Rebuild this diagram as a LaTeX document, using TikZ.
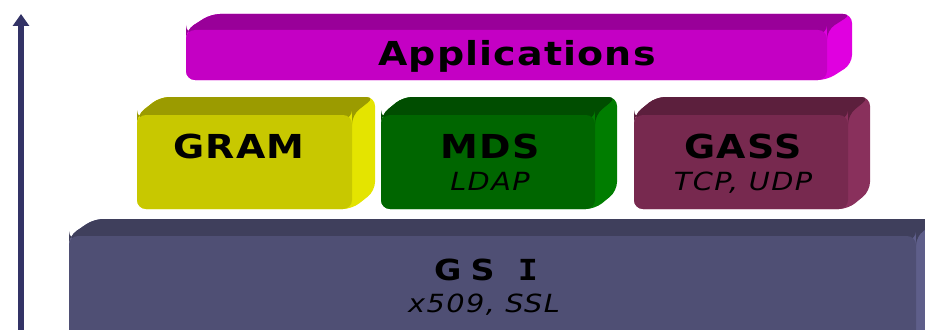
\documentclass[tikz,border=0pt]{standalone}
\usepackage{fontspec}
\usetikzlibrary{arrows.meta}
\newfontfamily\headfont{DejaVu Sans Bold}[LetterSpace=3]
\newfontfamily\slabfont{DejaVu Sans Mono Bold}
\newfontfamily\subfont{DejaVu Sans Oblique}[LetterSpace=5]

\definecolor{arrowc}{HTML}{333366}
\definecolor{appF}{HTML}{C400C4}
\definecolor{appT}{HTML}{990099}
\definecolor{appS}{HTML}{E000E0}
\definecolor{gramF}{HTML}{C8C800}
\definecolor{gramT}{HTML}{9B9B00}
\definecolor{gramS}{HTML}{E4E400}
\definecolor{mdsF}{HTML}{006600}
\definecolor{mdsT}{HTML}{004D00}
\definecolor{mdsS}{HTML}{007D00}
\definecolor{gassF}{HTML}{77294F}
\definecolor{gassT}{HTML}{5C1F3D}
\definecolor{gassS}{HTML}{89305C}
\definecolor{gsiF}{HTML}{4F4F74}
\definecolor{gsiT}{HTML}{3F3F5C}
\definecolor{gsiS}{HTML}{5E5E8A}

\tikzset{
  headtext/.style={anchor=base, inner sep=0pt, xscale=1.15,
    font=\headfont\fontsize{33}{33}\selectfont},
  smallhead/.style={anchor=base, inner sep=0pt, xscale=1.15,
    font=\headfont\fontsize{29}{29}\selectfont},
  subtext/.style={anchor=base, inner sep=0pt, xscale=1.15,
    font=\subfont\fontsize{25}{25}\selectfont},
  levelarrow/.style={arrowc, line width=6pt, -{Triangle[width=16pt,length=12pt]}}
}

% extruded rounded block: front face corners (x1,y1)-(x2,y2), depth (dx,dy)
\newcommand{\slab}[9]{%
  \fill[#8, rounded corners=9pt] (#1,#4) -- (#1,#2) -- (#1+#5,#2-#6) -- (#3+#5,#2-#6)
      -- (#3+#5,#4-#6) -- (#3,#4) -- cycle;
  \fill[#7, rounded corners=9pt] (#1,#2+4) -- (#1,#2) -- (#1+#5,#2-#6) -- (#3+#5,#2-#6)
      -- (#3,#2) -- (#3,#2+4) -- cycle;
  \fill[#9, rounded corners=9pt] (#1,#2) rectangle (#3,#4);
}

\begin{document}
\begin{tikzpicture}[x=1pt, y=-1pt]
  \useasboundingbox (0,0) rectangle (925,329);

  % protocol stack blocks
  \slab{69}{236}{916}{345}{25}{17}{gsiT}{gsiS}{gsiF}
  \slab{137}{115}{352}{209}{23}{18}{gramT}{gramS}{gramF}
  \slab{381}{115}{595}{209}{22}{18}{mdsT}{mdsS}{mdsF}
  \slab{634}{115}{848}{209}{22}{18}{gassT}{gassS}{gassF}
  \slab{186}{30}{827}{80}{25}{16}{appT}{appS}{appF}

  % labels
  \node[headtext]  (apps) at (517,65) {Applications};
  \node[headtext]  (gram) at (239,158) {GRAM};
  \node[headtext]  (mds)  at (490,158) {MDS};
  \node[subtext]   (ldap) at (490,190) {LDAP};
  \node[headtext]  (gass) at (743,158) {GASS};
  \node[subtext]   (tcp)  at (743,190) {TCP, UDP};
  \node[smallhead] (gsi)  at (486,280) {G\hspace{8pt}S\hspace{20pt}{\slabfont I}};
  \node[subtext]   (ssl)  at (484,312) {x509, SSL};

  % vertical level arrow
  \coordinate (abase) at (21,335);
  \coordinate (atop) at (21,14);
  \draw[levelarrow] (abase) -- (atop);
\end{tikzpicture}
\end{document}
